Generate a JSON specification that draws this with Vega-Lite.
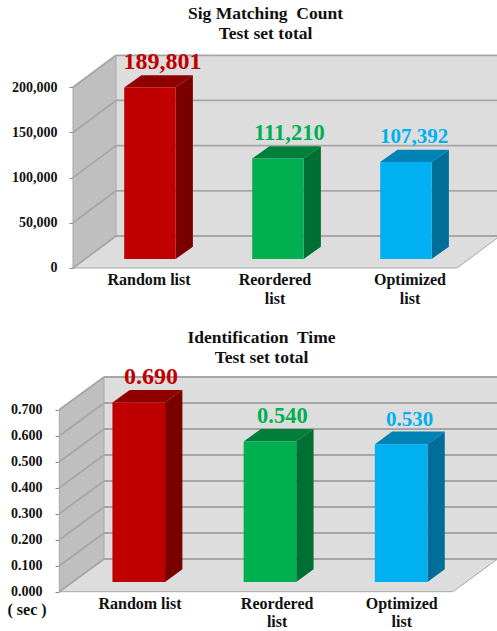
{"$schema":"https://vega.github.io/schema/vega-lite/v6.json","padding":0,"spacing":0,"background":"white","autosize":{"type":"pad"},"config":{"view":{"stroke":null},"font":"Liberation Serif","concat":{"spacing":0}},"datasets":{"count":[{"list":"Random list","value":189801},{"list":"Reordered list","value":111210},{"list":"Optimized list","value":107392}],"time":[{"list":"Random list","value":0.69},{"list":"Reordered list","value":0.54},{"list":"Optimized list","value":0.53}],"ticksA":[{"tick":0},{"tick":50000},{"tick":100000},{"tick":150000},{"tick":200000}],"ticksB":[{"tick":0},{"tick":0.1},{"tick":0.2},{"tick":0.3},{"tick":0.4},{"tick":0.5},{"tick":0.6},{"tick":0.7}],"depth":[{"d":0},{"d":1}]},"vconcat":[{"width":497,"height":315,"title":{"text":["Sig Matching\u00a0 Count","Test set total"],"font":"Liberation Serif","fontSize":17.5,"fontWeight":"bold","color":"#111111","lineHeight":20,"anchor":"middle","dx":17,"offset":-42},"data":{"name":"count"},"resolve":{"scale":{"color":"independent"}},"layer":[{"data":{"values":[{"wall":"back"}]},"mark":{"type":"rect","color":"#DDDDDD","clip":true},"encoding":{"x":{"datum":0.336,"type":"quantitative","scale":{"domain":[-0.5703,3.3125],"nice":false,"zero":false},"axis":null},"x2":{"datum":3.3125},"y":{"datum":35418,"type":"quantitative","scale":{"domain":[-52020,296622],"nice":false,"zero":false},"axis":{"values":[0,50000,100000,150000,200000],"format":",.0f","offset":-73,"title":null,"domain":false,"grid":false,"tickSize":4,"tickColor":"#888888","labelPadding":12,"labelFont":"Liberation Serif","labelFontSize":14,"labelFontWeight":"bold","labelColor":"#111111"}},"y2":{"datum":235418}}},{"data":{"name":"depth"},"transform":[{"calculate":"datum.d*0.336","as":"wx"},{"calculate":"200000+datum.d*35418","as":"wt"},{"calculate":"datum.d*35418","as":"wb"}],"mark":{"type":"area","orient":"vertical","color":"#BFBFBF","stroke":"#A8A8A8","strokeWidth":1},"encoding":{"x":{"field":"wx","type":"quantitative"},"y":{"field":"wt","type":"quantitative","stack":null},"y2":{"field":"wb"}}},{"data":{"name":"depth"},"transform":[{"calculate":"datum.d*0.336","as":"fx"},{"calculate":"3+datum.d*0.336","as":"fx2"},{"calculate":"datum.d*35418","as":"fy"}],"mark":{"type":"area","orient":"horizontal","color":"#DDDDDD","stroke":"#A8A8A8","strokeWidth":1,"clip":true},"encoding":{"y":{"field":"fy","type":"quantitative","stack":null},"x":{"field":"fx","type":"quantitative"},"x2":{"field":"fx2"}}},{"data":{"name":"ticksA"},"transform":[{"calculate":"datum.tick+35418","as":"t2"}],"mark":{"type":"rule","color":"#A6A6A6","strokeWidth":1.8},"encoding":{"x":{"datum":0,"type":"quantitative"},"x2":{"datum":0.336},"y":{"field":"tick","type":"quantitative"},"y2":{"field":"t2"}}},{"data":{"name":"ticksA"},"transform":[{"calculate":"datum.tick+35418","as":"t2"}],"mark":{"type":"rule","color":"#A6A6A6","strokeWidth":1.8},"encoding":{"x":{"datum":0.336,"type":"quantitative"},"x2":{"datum":3.3125},"y":{"field":"t2","type":"quantitative"}}},{"transform":[{"window":[{"op":"row_number","as":"idx"}]},{"calculate":"0","as":"near"},{"calculate":"1","as":"far"},{"fold":["near","far"],"as":["end","d"]},{"calculate":"datum.idx-1+0.4+0.4016+datum.d*0.135","as":"sx"},{"calculate":"datum.value+9961+datum.d*13614","as":"sy"},{"calculate":"9961+datum.d*13614","as":"sb"}],"mark":{"type":"area","orient":"vertical"},"encoding":{"x":{"field":"sx","type":"quantitative"},"y":{"field":"sy","type":"quantitative","stack":null},"y2":{"field":"sb"},"color":{"field":"list","type":"nominal","legend":null,"scale":{"domain":["Random list","Reordered list","Optimized list"],"range":["#7A0000","#006F32","#006E98"]}}}},{"transform":[{"window":[{"op":"row_number","as":"idx"}]},{"calculate":"0","as":"near"},{"calculate":"1","as":"far"},{"fold":["near","far"],"as":["end","d"]},{"calculate":"datum.idx-1+0.4+datum.d*0.135","as":"tx"},{"calculate":"datum.idx-1+0.4+0.4016+datum.d*0.135","as":"tx2"},{"calculate":"datum.value+9961+datum.d*13614","as":"ty"}],"mark":{"type":"area","orient":"horizontal"},"encoding":{"y":{"field":"ty","type":"quantitative","stack":null},"x":{"field":"tx","type":"quantitative"},"x2":{"field":"tx2"},"color":{"field":"list","type":"nominal","legend":null,"scale":{"domain":["Random list","Reordered list","Optimized list"],"range":["#900000","#007F3A","#0082B4"]}}}},{"transform":[{"window":[{"op":"row_number","as":"idx"}]},{"calculate":"datum.idx-1+0.4","as":"bx"},{"calculate":"datum.bx+0.4016","as":"bx2"},{"calculate":"datum.value+9961","as":"by"},{"calculate":"9961","as":"bb"}],"mark":{"type":"rect"},"encoding":{"x":{"field":"bx","type":"quantitative"},"x2":{"field":"bx2"},"y":{"field":"by","type":"quantitative"},"y2":{"field":"bb"},"color":{"field":"list","type":"nominal","legend":null,"scale":{"domain":["Random list","Reordered list","Optimized list"],"range":["#C00000","#00B050","#00B0F0"]}}}},{"transform":[{"window":[{"op":"row_number","as":"idx"}]},{"calculate":"[0.70,1.69,2.665][datum.idx-1]","as":"lx"},{"calculate":"datum.value+9961+21000","as":"ly"}],"mark":{"type":"text","baseline":"alphabetic","align":"center","font":"Liberation Serif","fontWeight":"bold"},"encoding":{"x":{"field":"lx","type":"quantitative"},"y":{"field":"ly","type":"quantitative"},"text":{"field":"value","type":"quantitative","format":","},"size":{"field":"list","type":"nominal","legend":null,"scale":{"domain":["Random list","Reordered list","Optimized list"],"range":[24,21,21]}},"color":{"field":"list","type":"nominal","legend":null,"scale":{"domain":["Random list","Reordered list","Optimized list"],"range":["#C00000","#00B050","#00B0F0"]}}}},{"transform":[{"window":[{"op":"row_number","as":"idx"}]},{"calculate":"[0.594,1.578,2.633][datum.idx-1]","as":"cx"},{"calculate":"-18800","as":"cy"},{"calculate":"datum.list=='Random list'?datum.list:replace(datum.list,' ','|')","as":"wrapped"}],"mark":{"type":"text","baseline":"alphabetic","align":"center","font":"Liberation Serif","fontWeight":"bold","fontSize":16,"color":"#111111","lineBreak":"|","lineHeight":19},"encoding":{"x":{"field":"cx","type":"quantitative"},"y":{"field":"cy","type":"quantitative"},"text":{"field":"wrapped","type":"nominal"}}}]},{"width":497,"height":316,"title":{"text":["Identification\u00a0 Time","Test set total"],"font":"Liberation Serif","fontSize":17.5,"fontWeight":"bold","color":"#111111","lineHeight":20,"anchor":"middle","dx":13,"offset":-51},"data":{"name":"time"},"resolve":{"scale":{"color":"independent"}},"layer":[{"data":{"values":[{"wall":"back"}]},"mark":{"type":"rect","color":"#DDDDDD","clip":true},"encoding":{"x":{"datum":0.3407,"type":"quantitative","scale":{"domain":[-0.452,3.336],"nice":false,"zero":false},"axis":null},"x2":{"datum":3.336},"y":{"datum":0.1258,"type":"quantitative","scale":{"domain":[-0.1512,1.0642],"nice":false,"zero":false},"axis":{"values":[0,0.1,0.2,0.3,0.4,0.5,0.6,0.7],"format":".3f","offset":-59,"title":null,"domain":false,"grid":false,"tickSize":4,"tickColor":"#888888","labelPadding":13,"labelFont":"Liberation Serif","labelFontSize":14,"labelFontWeight":"bold","labelColor":"#111111"}},"y2":{"datum":0.8258}}},{"data":{"name":"depth"},"transform":[{"calculate":"datum.d*0.3407","as":"wx"},{"calculate":"0.7+datum.d*0.1258","as":"wt"},{"calculate":"datum.d*0.1258","as":"wb"}],"mark":{"type":"area","orient":"vertical","color":"#BFBFBF","stroke":"#A8A8A8","strokeWidth":1},"encoding":{"x":{"field":"wx","type":"quantitative"},"y":{"field":"wt","type":"quantitative","stack":null},"y2":{"field":"wb"}}},{"data":{"name":"depth"},"transform":[{"calculate":"datum.d*0.3407","as":"fx"},{"calculate":"3+datum.d*0.3407","as":"fx2"},{"calculate":"datum.d*0.1258","as":"fy"}],"mark":{"type":"area","orient":"horizontal","color":"#DDDDDD","stroke":"#A8A8A8","strokeWidth":1,"clip":true},"encoding":{"y":{"field":"fy","type":"quantitative","stack":null},"x":{"field":"fx","type":"quantitative"},"x2":{"field":"fx2"}}},{"data":{"name":"ticksB"},"transform":[{"calculate":"datum.tick+0.1258","as":"t2"}],"mark":{"type":"rule","color":"#A6A6A6","strokeWidth":1.8},"encoding":{"x":{"datum":0,"type":"quantitative"},"x2":{"datum":0.3407},"y":{"field":"tick","type":"quantitative"},"y2":{"field":"t2"}}},{"data":{"name":"ticksB"},"transform":[{"calculate":"datum.tick+0.1258","as":"t2"}],"mark":{"type":"rule","color":"#A6A6A6","strokeWidth":1.8},"encoding":{"x":{"datum":0.3407,"type":"quantitative"},"x2":{"datum":3.336},"y":{"field":"t2","type":"quantitative"}}},{"transform":[{"window":[{"op":"row_number","as":"idx"}]},{"calculate":"0","as":"near"},{"calculate":"1","as":"far"},{"fold":["near","far"],"as":["end","d"]},{"calculate":"datum.idx-1+0.405+0.401+datum.d*0.132","as":"sx"},{"calculate":"datum.value+0.0373+datum.d*0.0488","as":"sy"},{"calculate":"0.0373+datum.d*0.0488","as":"sb"}],"mark":{"type":"area","orient":"vertical"},"encoding":{"x":{"field":"sx","type":"quantitative"},"y":{"field":"sy","type":"quantitative","stack":null},"y2":{"field":"sb"},"color":{"field":"list","type":"nominal","legend":null,"scale":{"domain":["Random list","Reordered list","Optimized list"],"range":["#7A0000","#006F32","#006E98"]}}}},{"transform":[{"window":[{"op":"row_number","as":"idx"}]},{"calculate":"0","as":"near"},{"calculate":"1","as":"far"},{"fold":["near","far"],"as":["end","d"]},{"calculate":"datum.idx-1+0.405+datum.d*0.132","as":"tx"},{"calculate":"datum.idx-1+0.405+0.401+datum.d*0.132","as":"tx2"},{"calculate":"datum.value+0.0373+datum.d*0.0488","as":"ty"}],"mark":{"type":"area","orient":"horizontal"},"encoding":{"y":{"field":"ty","type":"quantitative","stack":null},"x":{"field":"tx","type":"quantitative"},"x2":{"field":"tx2"},"color":{"field":"list","type":"nominal","legend":null,"scale":{"domain":["Random list","Reordered list","Optimized list"],"range":["#900000","#007F3A","#0082B4"]}}}},{"transform":[{"window":[{"op":"row_number","as":"idx"}]},{"calculate":"datum.idx-1+0.405","as":"bx"},{"calculate":"datum.bx+0.401","as":"bx2"},{"calculate":"datum.value+0.0373","as":"by"},{"calculate":"0.0373","as":"bb"}],"mark":{"type":"rect"},"encoding":{"x":{"field":"bx","type":"quantitative"},"x2":{"field":"bx2"},"y":{"field":"by","type":"quantitative"},"y2":{"field":"bb"},"color":{"field":"list","type":"nominal","legend":null,"scale":{"domain":["Random list","Reordered list","Optimized list"],"range":["#C00000","#00B050","#00B0F0"]}}}},{"transform":[{"window":[{"op":"row_number","as":"idx"}]},{"calculate":"[0.699,1.70,2.67][datum.idx-1]","as":"lx"},{"calculate":"datum.value+0.0373+0.071","as":"ly"}],"mark":{"type":"text","baseline":"alphabetic","align":"center","font":"Liberation Serif","fontWeight":"bold"},"encoding":{"x":{"field":"lx","type":"quantitative"},"y":{"field":"ly","type":"quantitative"},"text":{"field":"value","type":"quantitative","format":".3f"},"size":{"field":"list","type":"nominal","legend":null,"scale":{"domain":["Random list","Reordered list","Optimized list"],"range":[23.5,21.5,21.5]}},"color":{"field":"list","type":"nominal","legend":null,"scale":{"domain":["Random list","Reordered list","Optimized list"],"range":["#C00000","#00B050","#00B0F0"]}}}},{"transform":[{"window":[{"op":"row_number","as":"idx"}]},{"calculate":"[0.615,1.66,2.61][datum.idx-1]","as":"cx"},{"calculate":"-0.0665","as":"cy"},{"calculate":"datum.list=='Random list'?datum.list:replace(datum.list,' ','|')","as":"wrapped"}],"mark":{"type":"text","baseline":"alphabetic","align":"center","font":"Liberation Serif","fontWeight":"bold","fontSize":16,"color":"#111111","lineBreak":"|","lineHeight":18},"encoding":{"x":{"field":"cx","type":"quantitative"},"y":{"field":"cy","type":"quantitative"},"text":{"field":"wrapped","type":"nominal"}}},{"data":{"values":[{"unit":"( sec )"}]},"mark":{"type":"text","baseline":"alphabetic","align":"center","font":"Liberation Serif","fontWeight":"bold","fontSize":16,"color":"#111111"},"encoding":{"x":{"datum":-0.246,"type":"quantitative"},"y":{"datum":-0.0896,"type":"quantitative"},"text":{"field":"unit","type":"nominal"}}}]}]}
